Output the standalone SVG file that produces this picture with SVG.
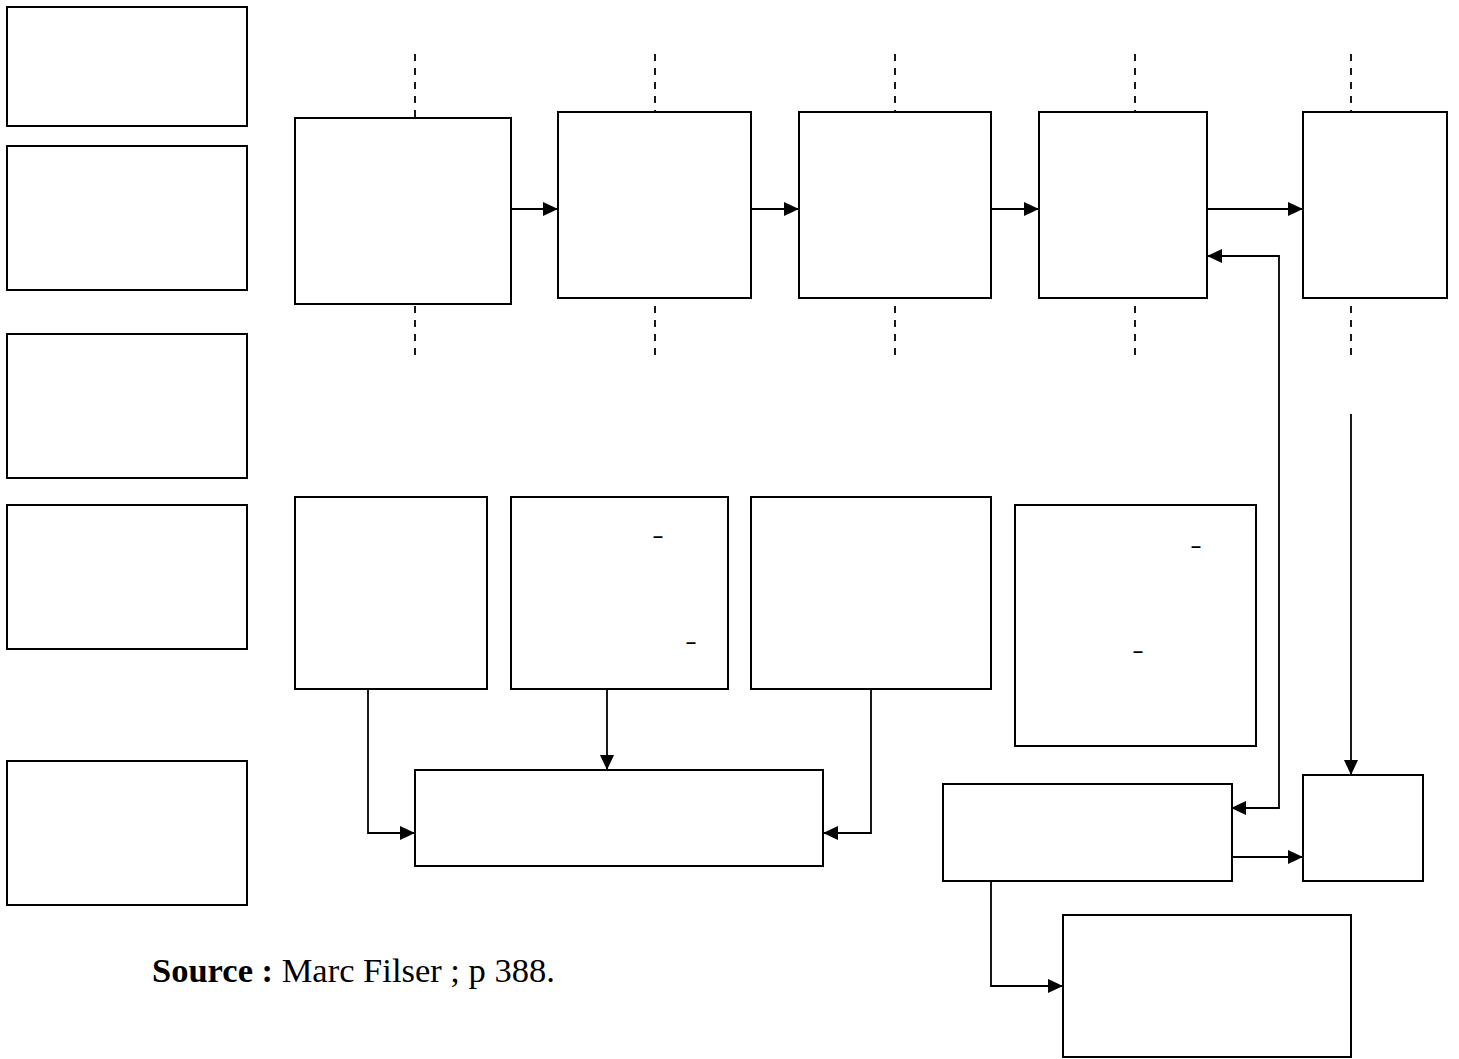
<svg xmlns="http://www.w3.org/2000/svg" width="1459" height="1059" viewBox="0 0 1459 1059">
<style>
.box{fill:#fff;stroke:#000;stroke-width:2}
.con{fill:none;stroke:#000;stroke-width:1.8}
.dash{fill:none;stroke:#000;stroke-width:1.8;stroke-dasharray:7 7}
.mk{font-family:"Liberation Sans",Arial,sans-serif;font-size:18px;font-weight:bold;fill:#000}
.src{font-family:"Liberation Serif","Times New Roman",serif;font-size:34.5px;fill:#000}
</style>
<defs>
<marker id="arr" markerUnits="userSpaceOnUse" markerWidth="16" markerHeight="16" refX="15" refY="7" orient="auto-start-reverse">
<path d="M0,0 L15,7 L0,14 z" fill="#000"/>
</marker>
</defs>
<rect width="1459" height="1059" fill="#fff"/>

<g id="left1"><rect class="box" x="7" y="7" width="240" height="119"/></g>
<g id="left2"><rect class="box" x="7" y="146" width="240" height="144"/></g>
<g id="left3"><rect class="box" x="7" y="334" width="240" height="144"/></g>
<g id="left4"><rect class="box" x="7" y="505" width="240" height="144"/></g>
<g id="left5"><rect class="box" x="7" y="761" width="240" height="144"/></g>

<g id="dashes">
<line class="dash" x1="415" y1="54" x2="415" y2="118"/>
<line class="dash" x1="415" y1="306" x2="415" y2="362"/>
<line class="dash" x1="655" y1="54" x2="655" y2="112"/>
<line class="dash" x1="655" y1="306" x2="655" y2="362"/>
<line class="dash" x1="895" y1="54" x2="895" y2="112"/>
<line class="dash" x1="895" y1="306" x2="895" y2="362"/>
<line class="dash" x1="1135" y1="54" x2="1135" y2="112"/>
<line class="dash" x1="1135" y1="306" x2="1135" y2="362"/>
<line class="dash" x1="1351" y1="54" x2="1351" y2="112"/>
<line class="dash" x1="1351" y1="306" x2="1351" y2="362"/>
</g>

<g id="stepA"><rect class="box" x="295" y="118" width="216" height="186"/></g>
<g id="stepB"><rect class="box" x="558" y="112" width="193" height="186"/></g>
<g id="stepC"><rect class="box" x="799" y="112" width="192" height="186"/></g>
<g id="stepD"><rect class="box" x="1039" y="112" width="168" height="186"/></g>
<g id="stepE"><rect class="box" x="1303" y="112" width="144" height="186"/></g>

<g id="midI"><rect class="box" x="295" y="497" width="192" height="192"/></g>
<g id="midJ"><rect class="box" x="511" y="497" width="217" height="192"/>
<text class="mk" x="653" y="541.5">–</text>
<text class="mk" x="686" y="647.5">–</text></g>
<g id="midK"><rect class="box" x="751" y="497" width="240" height="192"/></g>
<g id="midL"><rect class="box" x="1015" y="505" width="241" height="241"/>
<text class="mk" x="1191" y="551.5">–</text>
<text class="mk" x="1133" y="656.5">–</text></g>

<g id="boxM"><rect class="box" x="415" y="770" width="408" height="96"/></g>
<g id="boxF"><rect class="box" x="943" y="784" width="289" height="97"/></g>
<g id="boxG"><rect class="box" x="1303" y="775" width="120" height="106"/></g>
<g id="boxH"><rect class="box" x="1063" y="915" width="288" height="142"/></g>

<g id="connectors">
<path class="con" d="M511,209 H558" marker-end="url(#arr)"/>
<path class="con" d="M751,209 H799" marker-end="url(#arr)"/>
<path class="con" d="M991,209 H1039" marker-end="url(#arr)"/>
<path class="con" d="M1207,209 H1303" marker-end="url(#arr)"/>
<path class="con" d="M1207,256 H1279 V808 H1231" marker-start="url(#arr)" marker-end="url(#arr)"/>
<path class="con" d="M1351,414 V775" marker-end="url(#arr)"/>
<path class="con" d="M1232,857 H1303" marker-end="url(#arr)"/>
<path class="con" d="M991,881 V986 H1063" marker-end="url(#arr)"/>
<path class="con" d="M368,689 V833 H415" marker-end="url(#arr)"/>
<path class="con" d="M607,689 V770" marker-end="url(#arr)"/>
<path class="con" d="M871,689 V833 H823" marker-end="url(#arr)"/>
</g>

<text class="src" x="152" y="982"><tspan font-weight="bold">Source :</tspan> Marc Filser ; p 388.</text>
</svg>
